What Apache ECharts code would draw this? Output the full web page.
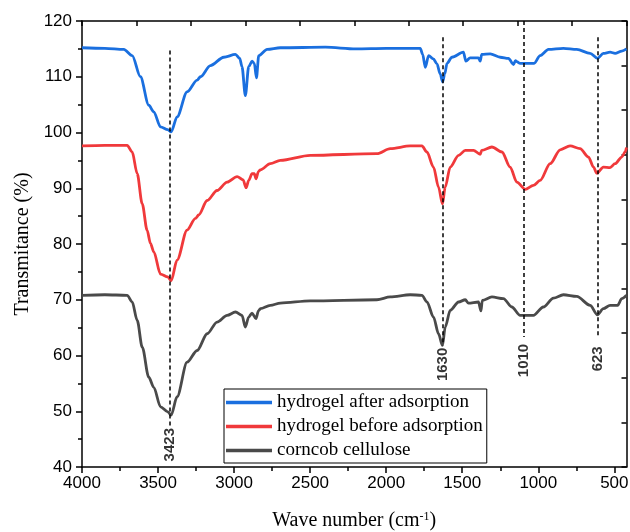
<!DOCTYPE html>
<html style="height: 100%;margin: 0;padding: 0;">
<head>
    <meta charset="utf-8">
    <title>FTIR spectra</title>
    <script src="https://cdn.jsdelivr.net/npm/echarts@6.0.0/dist/echarts.min.js"></script>
</head>
<body style="margin:0;padding:0;background:#fff">
<div id="main" style="width:630px;height:532px"></div>
<script type="text/javascript">
// wave number (cm-1), transmittance (%)
var afterAdsorption = [[4000,115.2],[3850,115.1],[3725,114.9],[3670,113.8],[3616,110.0],[3561,104.9],[3528,103.7],[3484,101.0],[3436,100.5],[3414,100.1],[3375,102.8],[3309,107.3],[3243,109.4],[3221,110.0],[3156,112.0],[3068,113.5],[2991,114.0],[2963,113.3],[2948,111.8],[2926,106.6],[2904,111.8],[2882,112.8],[2867,112.4],[2853,109.8],[2838,113.8],[2783,114.9],[2696,115.2],[2400,115.3],[2200,115.0],[2000,115.1],[1776,115.1],[1760,114.0],[1743,111.7],[1721,113.8],[1690,113.2],[1666,112.3],[1645,110.5],[1629,109.1],[1615,110.5],[1600,112.4],[1568,113.5],[1492,114.4],[1476,112.8],[1448,113.4],[1393,113.4],[1382,112.8],[1372,114.0],[1316,114.1],[1250,113.5],[1196,113.3],[1163,112.2],[1150,112.9],[1141,112.7],[1119,112.4],[1027,112.4],[988,113.8],[933,114.9],[835,115.1],[747,114.9],[659,114.2],[611,113.3],[572,114.2],[528,114.4],[495,114.2],[451,114.6],[420,115.0]];
var beforeAdsorption = [[4000,97.6],[3850,97.7],[3703,97.7],[3670,96.5],[3637,92.6],[3604,87.2],[3572,82.5],[3550,80.1],[3528,78.6],[3484,74.6],[3436,74.1],[3414,73.4],[3375,77.1],[3309,82.5],[3254,84.6],[3233,85.2],[3177,87.8],[3112,89.6],[3046,91.1],[2980,92.1],[2941,91.5],[2921,90.1],[2904,91.4],[2882,92.6],[2867,92.6],[2856,91.7],[2840,93.0],[2827,93.3],[2762,94.4],[2696,95.0],[2499,95.9],[2061,96.2],[1973,97.1],[1842,97.6],[1765,97.6],[1732,96.5],[1689,93.8],[1656,90.2],[1630,87.2],[1612,90.2],[1579,93.8],[1524,95.9],[1480,96.8],[1426,96.8],[1382,96.1],[1372,96.8],[1305,97.4],[1239,96.5],[1185,93.8],[1141,91.1],[1086,89.8],[1032,90.5],[988,91.4],[922,94.4],[856,96.9],[791,97.6],[725,97.1],[670,95.6],[637,93.8],[615,92.7],[572,93.8],[528,93.7],[495,94.4],[451,95.6],[429,96.5],[420,97.3]];
var corncobCellulose = [[4000,70.8],[3850,70.9],[3703,70.8],[3670,69.6],[3637,66.3],[3604,61.5],[3561,56.1],[3528,54.3],[3484,50.8],[3436,49.9],[3414,49.3],[3375,52.6],[3309,58.8],[3243,60.9],[3177,63.9],[3112,66.0],[3046,67.2],[2991,67.8],[2948,67.2],[2926,65.1],[2904,66.9],[2882,67.6],[2856,66.6],[2840,68.0],[2827,68.4],[2762,69.0],[2696,69.4],[2499,69.8],[2061,70.0],[1973,70.5],[1842,70.9],[1765,70.8],[1732,69.6],[1689,66.9],[1656,63.9],[1630,61.8],[1612,65.1],[1579,68.1],[1524,69.6],[1480,70.0],[1459,69.4],[1393,69.6],[1377,68.0],[1368,69.9],[1305,70.5],[1229,70.2],[1174,68.7],[1119,67.2],[1032,67.2],[967,68.7],[900,70.3],[835,70.9],[747,70.6],[659,69.0],[611,67.3],[572,68.4],[528,69.0],[478,69.0],[451,70.2],[420,70.8]];

var seriesNames = ['hydrogel after adsorption', 'hydrogel before adsorption', 'corncob cellulose'];
var seriesColors = ['#1A6FDF', '#F0393B', '#4A4A4A'];

// peak marks: where the dotted line sits, its text, top / bottom of the line, text centre
var peakWave = [3423, 1630, 1097, 611];
var peakText = ['3423', '1630', '1010', '623'];
var peakTop = [114.7, 117.1, 120, 117.1];
var peakBottom = [47.2, 61.8, 63.3, 63.3];
var peakLabelY = [44.0, 58.4, 59.1, 59.4];

var xMajor = [500, 1000, 1500, 2000, 2500, 3000, 3500, 4000];
var xMinor = [750, 1250, 1750, 2250, 2750, 3250, 3750];

var serif = 'Liberation Serif';
var sans = 'Liberation Sans';

var myChart = echarts.init(document.getElementById('main'));

function lineSeries(i, data) {
    return {
        name: seriesNames[i],
        type: 'line',
        data: data,
        showSymbol: false,
        symbol: 'none',
        smooth: 0.3,
        smoothMonotone: 'x',
        color: seriesColors[i],
        lineStyle: { width: 2.8, color: seriesColors[i] },
        z: 3
    };
}

var option = {
    animation: false,
    backgroundColor: '#fff',
    grid: { left: 82, top: 21, right: 3.5, bottom: 65, containLabel: false, outerBoundsMode: 'none' },
    legend: {
        data: seriesNames,
        orient: 'vertical',
        left: 224,
        top: 389,
        icon: 'rect',
        itemWidth: 46,
        itemHeight: 3.5,
        itemGap: 5,
        padding: [4, 4, 3, 2],
        borderColor: '#000',
        borderWidth: 1,
        backgroundColor: '#fff',
        textStyle: { fontFamily: serif, fontSize: 19, color: '#000' }
    },
    xAxis: [{
        type: 'value',
        inverse: true,
        min: 420,
        max: 4000,
        position: 'bottom',
        axisLine: { lineStyle: { color: '#000', width: 1.5 } },
        axisTick: { customValues: xMajor, length: 6, lineStyle: { color: '#000', width: 1.5 } },
        axisLabel: {
            customValues: xMajor,
            formatter: function (v) { return String(v); },
            fontFamily: sans, fontSize: 17, color: '#000', margin: 8
        },
        splitLine: { show: false },
        name: 'Wave number (cm{sup|-1})',
        nameLocation: 'middle',
        nameGap: 44,
        nameTextStyle: {
            fontFamily: serif, fontSize: 20, color: '#000',
            rich: { sup: { fontFamily: serif, fontSize: 12, color: '#000', verticalAlign: 'top', padding: [0, 0, 8, 0] } }
        }
    }, {
        // frame on top, ten inner ticks
        type: 'value',
        position: 'top',
        min: 0, max: 10, interval: 1,
        axisLine: { lineStyle: { color: '#000', width: 1.5 } },
        axisTick: { inside: true, length: 5, lineStyle: { color: '#000', width: 1.5 } },
        axisLabel: { show: false },
        splitLine: { show: false }
    }, {
        // minor ticks of the wave number axis
        type: 'value',
        inverse: true,
        min: 420,
        max: 4000,
        position: 'bottom',
        axisLine: { show: false },
        axisTick: { customValues: xMinor, length: 4, lineStyle: { color: '#000', width: 1.5 } },
        axisLabel: { show: false },
        splitLine: { show: false }
    }],
    yAxis: [{
        type: 'value',
        min: 40,
        max: 120,
        interval: 10,
        position: 'left',
        axisLine: { show: true, lineStyle: { color: '#000', width: 1.5 } },
        axisTick: { show: true, length: 6, lineStyle: { color: '#000', width: 1.5 } },
        minorTick: { show: true, splitNumber: 2, length: 4, lineStyle: { color: '#000', width: 1.5 } },
        axisLabel: { fontFamily: sans, fontSize: 17, color: '#000', margin: 10 },
        splitLine: { show: false },
        name: 'Transmitance (%)',
        nameLocation: 'middle',
        nameGap: 48,
        nameTextStyle: { fontFamily: serif, fontSize: 20, color: '#000' }
    }, {
        // frame on the right, ten inner ticks
        type: 'value',
        position: 'right',
        min: 0, max: 10, interval: 1,
        axisLine: { show: true, lineStyle: { color: '#000', width: 1.5 } },
        axisTick: { show: true, inside: true, length: 5, lineStyle: { color: '#000', width: 1.5 } },
        axisLabel: { show: false },
        splitLine: { show: false }
    }],
    series: [
        lineSeries(0, afterAdsorption),
        lineSeries(1, beforeAdsorption),
        lineSeries(2, corncobCellulose),
        {
            name: 'peaks',
            type: 'scatter',
            symbolSize: 1,
            itemStyle: { color: 'rgba(0,0,0,0)' },
            data: peakWave.map(function (w, i) { return [w, peakLabelY[i]]; }),
            label: {
                show: true,
                position: 'inside',
                rotate: 90,
                formatter: function (p) { return peakText[p.dataIndex]; },
                fontFamily: sans,
                fontWeight: 'bold',
                fontSize: 15,
                color: '#000'
            },
            markLine: {
                silent: true,
                symbol: ['none', 'none'],
                label: { show: false },
                lineStyle: { color: '#000', type: [4, 3], width: 1.5 },
                data: peakWave.map(function (w, i) {
                    return [{ coord: [w, peakTop[i]] }, { coord: [w, peakBottom[i]] }];
                })
            },
            z: 5
        }
    ]
};
myChart.setOption(option);
</script>
</body>
</html>
